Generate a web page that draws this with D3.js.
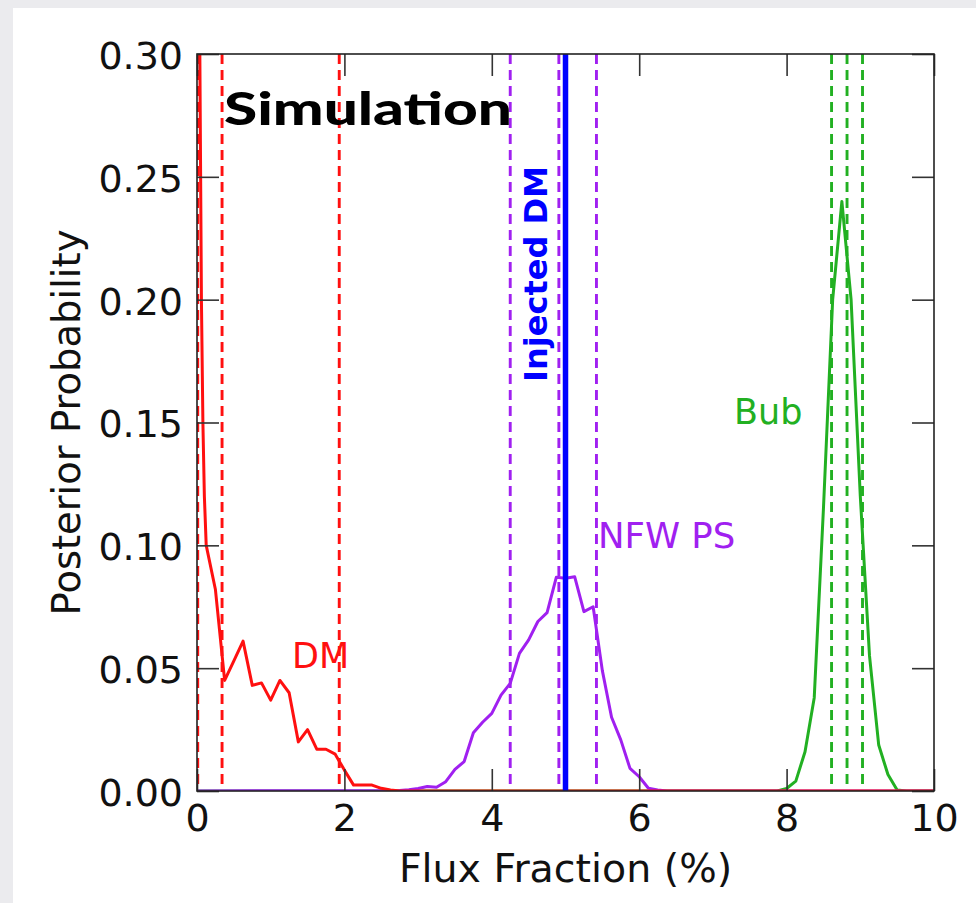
<!DOCTYPE html>
<html>
<head>
<meta charset="utf-8">
<script src="https://cdn.jsdelivr.net/npm/d3@7"></script>
<style>
  html, body { margin: 0; padding: 0; background: #ebebee; }
  svg { display: block; }
</style>
</head>
<body>
<script>
// ---------- data ----------
const xTicks = [0, 2, 4, 6, 8, 10];
const yTicks = [0.00, 0.05, 0.10, 0.15, 0.20, 0.25, 0.30];

const dmX = [0.03, 0.06, 0.08, 0.10, 0.125, 0.25, 0.375, 0.5, 0.625, 0.75, 0.875, 1.0, 1.125, 1.25, 1.375, 1.5, 1.625, 1.75, 1.875, 2.0, 2.125, 2.25, 2.375, 2.5, 2.625, 2.75, 10];
const dmP = [0.34, 0.20, 0.15, 0.12, 0.10, 0.082, 0.045, 0.053, 0.061, 0.043, 0.044, 0.037, 0.045, 0.040, 0.020, 0.025, 0.017, 0.017, 0.015, 0.0085, 0.0024, 0.0024, 0.0024, 0.0011, 0.0004, 0, 0];

const nfwX = [0, 2.75, 2.875, 3.0, 3.125, 3.25, 3.375, 3.5, 3.625, 3.75, 3.875, 4.0, 4.125, 4.25, 4.375, 4.5, 4.625, 4.75, 4.875, 5.0, 5.125, 5.25, 5.375, 5.5, 5.625, 5.75, 5.875, 6.0, 6.125, 6.25, 6.375, 10];
const nfwP = [0, 0.0002, 0.0005, 0.001, 0.0018, 0.0015, 0.0038, 0.0088, 0.012, 0.0237, 0.028, 0.0316, 0.039, 0.0438, 0.056, 0.0615, 0.069, 0.0726, 0.087, 0.0866, 0.0872, 0.073, 0.075, 0.049, 0.030, 0.0208, 0.0092, 0.0058, 0.0011, 0.0004, 0, 0];

const bubX = [0, 7.875, 8.0, 8.125, 8.25, 8.375, 8.5, 8.625, 8.75, 8.875, 9.0, 9.125, 9.25, 9.375, 9.5, 9.625, 10];
const bubP = [0, 0, 0.001, 0.004, 0.016, 0.038, 0.115, 0.200, 0.240, 0.200, 0.120, 0.055, 0.0187, 0.0067, 0.0004, 0, 0];

const dmBands = [0.01, 0.34, 1.93];
const nfwBands = [4.25, 4.91, 5.42];
const bubBands = [8.61, 8.82, 9.03];
const injectedDM = [5.0];

// ---------- layout ----------
const W = 976, H = 903;
const L = 197, R = 934, T = 54, B = 791;
const RED = "#ff1010", PURPLE = "#a020f0", GREEN = "#22b022", BLUE = "#0000ff";
const FONT = "'DejaVu Sans', 'Bitstream Vera Sans', sans-serif";

const svg = d3.select("body").append("svg").attr("width", W).attr("height", H);
svg.append("rect").attr("x", 0).attr("y", 0).attr("width", W).attr("height", H).attr("fill", "#ebebee");
svg.append("rect").attr("x", 13).attr("y", 8).attr("width", W - 13).attr("height", H - 8).attr("fill", "#ffffff");

const x = d3.scaleLinear().domain([0, 10]).range([L, R]);
const y = d3.scaleLinear().domain([0, 0.3]).range([B, T]);

svg.append("defs").append("clipPath").attr("id", "plotclip")
  .append("rect").attr("x", L).attr("y", T).attr("width", R - L).attr("height", B - T);

const plot = svg.append("g").attr("clip-path", "url(#plotclip)");

function vlines(vals, color, dashed, width) {
  plot.selectAll(null).data(vals).enter().append("line")
    .attr("x1", d => x(d)).attr("x2", d => x(d))
    .attr("y1", T).attr("y2", B)
    .attr("stroke", color).attr("stroke-width", width)
    .attr("stroke-dasharray", dashed ? "10,6" : null);
}

const line = d3.line().x(d => x(d[0])).y(d => y(d[1]));
function curve(xs, ps, color) {
  plot.append("path").datum(xs.map((v, i) => [v, ps[i]]))
    .attr("d", line).attr("fill", "none")
    .attr("stroke", color).attr("stroke-width", 3)
    .attr("stroke-linejoin", "round");
}

vlines(dmBands, RED, true, 2.9);
vlines(nfwBands, PURPLE, true, 2.9);
vlines(bubBands, GREEN, true, 2.9);

curve(bubX, bubP, GREEN);
curve(nfwX, nfwP, PURPLE);
curve(dmX, dmP, RED);

vlines(injectedDM, BLUE, false, 5.5);

// ---------- axes ----------
const tickColor = "#333";
function styleAxis(g) {
  g.select(".domain").remove();
  g.selectAll(".tick line").attr("stroke", tickColor).attr("stroke-width", 1.6);
  g.selectAll(".tick text").attr("fill", "#111").attr("font-family", FONT).attr("font-size", 38);
}

svg.append("g").attr("transform", `translate(${L},0)`)
  .call(d3.axisLeft(y).tickValues(yTicks).tickFormat(d3.format(".2f")).tickSize(-22).tickPadding(14).tickSizeOuter(0))
  .call(styleAxis)
  .call(g => g.selectAll(".tick text").attr("dy", "0.38em"));

svg.append("g").attr("transform", `translate(${R},0)`)
  .call(d3.axisRight(y).tickValues(yTicks).tickFormat("").tickSize(-22).tickSizeOuter(0))
  .call(styleAxis);

svg.append("g").attr("transform", `translate(0,${B})`)
  .call(d3.axisBottom(x).tickValues(xTicks).tickFormat(d3.format("d")).tickSize(-22).tickPadding(13).tickSizeOuter(0))
  .call(styleAxis);

svg.append("g").attr("transform", `translate(0,${T})`)
  .call(d3.axisTop(x).tickValues(xTicks).tickFormat("").tickSize(-22).tickSizeOuter(0))
  .call(styleAxis);

svg.append("rect").attr("x", L).attr("y", T).attr("width", R - L).attr("height", B - T)
  .attr("fill", "none").attr("stroke", "#222").attr("stroke-width", 1.6);

// ---------- labels ----------
svg.append("text").attr("transform", `translate(80,${(T + B) / 2}) rotate(-90)`)
  .attr("text-anchor", "middle").attr("font-family", FONT).attr("font-size", 38.5).attr("fill", "#111")
  .text("Posterior Probability");

svg.append("text").attr("x", (L + R) / 2).attr("y", 882)
  .attr("text-anchor", "middle").attr("font-family", FONT).attr("font-size", 39.5).attr("fill", "#111")
  .text("Flux Fraction (%)");

svg.append("text").attr("x", 224).attr("y", 125)
  .attr("font-family", "'Lato', 'Open Sans', sans-serif").attr("font-weight", 900).attr("font-size", 46)
  .attr("textLength", 288).attr("lengthAdjust", "spacingAndGlyphs").attr("fill", "#000")
  .text("Simulation");

svg.append("text").attr("transform", `translate(547,274) rotate(-90)`)
  .attr("text-anchor", "middle").attr("font-family", FONT).attr("font-weight", "bold").attr("font-size", 32)
  .attr("fill", BLUE).text("Injected DM");

svg.append("text").attr("x", 292).attr("y", 668).attr("font-family", FONT).attr("font-size", 35)
  .attr("fill", RED).text("DM");
svg.append("text").attr("x", 598).attr("y", 548).attr("font-family", FONT).attr("font-size", 35.5)
  .attr("fill", PURPLE).text("NFW PS");
svg.append("text").attr("x", 734).attr("y", 424).attr("font-family", FONT).attr("font-size", 35)
  .attr("fill", GREEN).text("Bub");
</script>
</body>
</html>
